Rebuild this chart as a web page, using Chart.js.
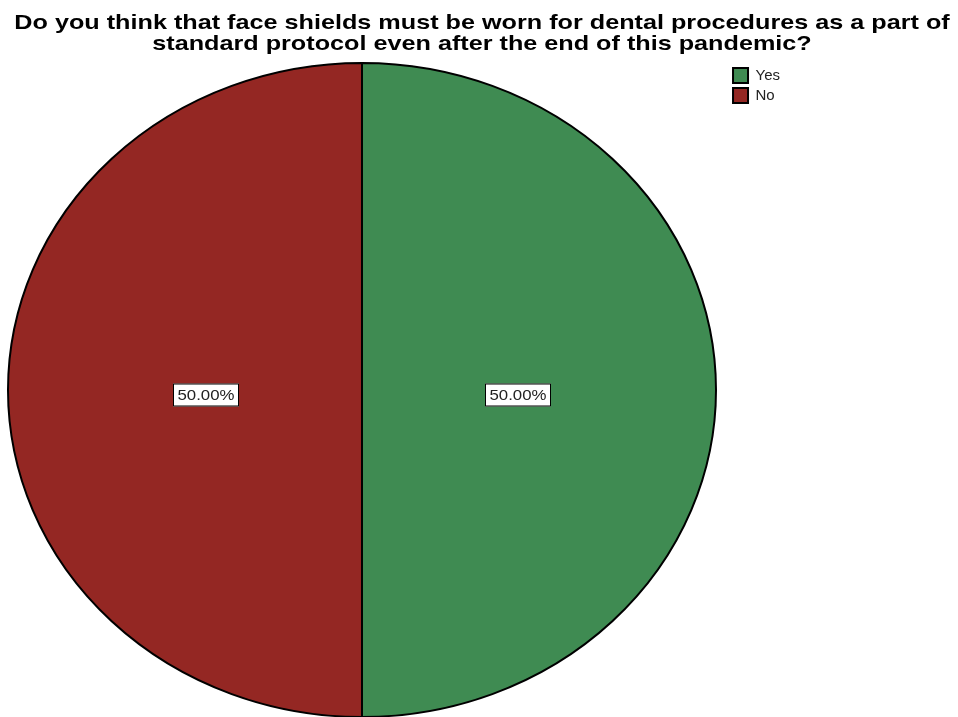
<!DOCTYPE html>
<html>
<head>
<meta charset="utf-8">
<script src="https://cdn.jsdelivr.net/npm/chart.js@4.4.1/dist/chart.umd.min.js"></script>
<style>
  html, body { margin: 0; padding: 0; background: #fff; }
  #wrap { width: 958px; height: 717px; position: relative; overflow: hidden; }
  #title {
    position: absolute; left: 3px; top: 11px; width: 958px;
    text-align: center; color: #000;
    font: bold 21px/21px "Liberation Sans", Arial, sans-serif;
    transform: scaleX(1.2); transform-origin: 50% 0;
    white-space: nowrap; z-index: 2;
  }
  #pie { position: absolute; left: 0; top: 0; }
</style>
</head>
<body>
<div id="wrap">
  <canvas id="pie"></canvas>
  <div id="title"></div>
</div>
<script>
/* chart data */
const titleLines = [
  'Do you think that face shields must be worn for dental procedures as a part of',
  'standard protocol even after the end of this pandemic?'
];
const categories = ['Yes', 'No'];
const percentages = [50.00, 50.00];
const sliceColors = ['#3f8b52', '#942723'];

/* where the (slightly oval) pie sits on the page */
const PIE = { cx: 362, cy: 390, rx: 354, ry: 327 };
const LABEL = { rFrac: 0.44, dy: 5, w: 66, h: 23, stretch: 1.2 };

// title as plain text above the canvas
const titleEl = document.getElementById('title');
titleLines.forEach((line, i) => {
  if (i) titleEl.appendChild(document.createElement('br'));
  titleEl.appendChild(document.createTextNode(line));
});

/* squash the round Chart.js pie into the oval of the reference */
const ovalPie = {
  id: 'ovalPie',
  beforeDatasetsDraw(chart) {
    const arc = chart.getDatasetMeta(0).data[0];
    const ctx = chart.ctx;
    ctx.save();
    ctx.translate(PIE.cx, PIE.cy);
    ctx.scale(1, PIE.ry / PIE.rx);
    ctx.translate(-arc.x, -arc.y);
  },
  afterDatasetsDraw(chart) {
    const ctx = chart.ctx;
    ctx.restore();
    // percentage boxes
    const meta = chart.getDatasetMeta(0);
    meta.data.forEach((arc, i) => {
      const p = arc.getProps(['startAngle', 'endAngle', 'outerRadius'], true);
      const mid = (p.startAngle + p.endAngle) / 2;
      const r = p.outerRadius * LABEL.rFrac;
      const x = Math.round(PIE.cx + Math.cos(mid) * r);
      const y = Math.round(PIE.cy + Math.sin(mid) * r * PIE.ry / PIE.rx + LABEL.dy);
      const txt = percentages[i].toFixed(2) + '%';
      ctx.save();
      ctx.fillStyle = '#fff';
      ctx.fillRect(x - LABEL.w / 2, y - LABEL.h / 2, LABEL.w, LABEL.h);
      ctx.strokeStyle = '#000';
      ctx.lineWidth = 1;
      ctx.strokeRect(x - LABEL.w / 2 + 0.5, y - LABEL.h / 2 + 0.5, LABEL.w - 1, LABEL.h - 1);
      ctx.translate(x, y + 1);
      ctx.scale(LABEL.stretch, 1);
      ctx.fillStyle = '#222';
      ctx.font = '14px "Liberation Sans", Arial, sans-serif';
      ctx.textAlign = 'center';
      ctx.textBaseline = 'middle';
      ctx.fillText(txt, 0, 0);
      ctx.restore();
    });
  }
};

new Chart(document.getElementById('pie'), {
  type: 'pie',
  data: {
    labels: categories,
    datasets: [{
      data: percentages,
      backgroundColor: sliceColors,
      borderColor: '#000',
      borderWidth: 2,
      radius: PIE.rx,
      clip: false
    }]
  },
  options: {
    responsive: true,
    maintainAspectRatio: false,
    animation: false,
    layout: { padding: { top: 63, right: 168, bottom: 0 } },
    plugins: {
      title: { display: false },
      legend: {
        position: 'right',
        align: 'start',
        labels: {
          boxWidth: 15,
          boxHeight: 15,
          padding: 5,
          color: '#222',
          font: { family: '"Liberation Sans", Arial, sans-serif', size: 15 }
        }
      },
      tooltip: { enabled: false }
    }
  },
  plugins: [ovalPie]
});
</script>
</body>
</html>
